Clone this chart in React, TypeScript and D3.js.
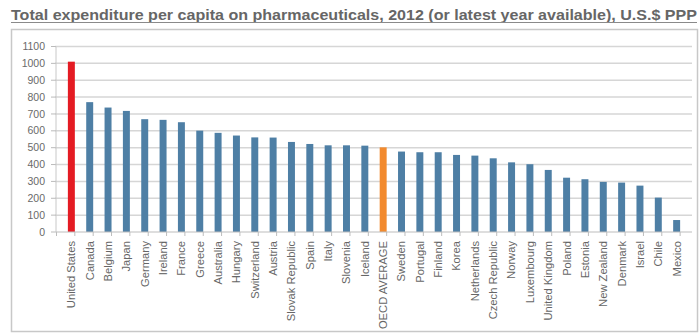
import React from "react";
import * as d3 from "d3";

const categories = [
  "United States", "Canada", "Belgium", "Japan", "Germany", "Ireland", "France", "Greece",
  "Australia", "Hungary", "Switzerland", "Austria", "Slovak Republic", "Spain", "Italy",
  "Slovenia", "Iceland", "OECD AVERAGE", "Sweden", "Portugal", "Finland", "Korea",
  "Netherlands", "Czech Republic", "Norway", "Luxembourg", "United Kingdom", "Poland",
  "Estonia", "New Zealand", "Denmark", "Israel", "Chile", "Mexico",
];
const values = [
  1010, 770, 738, 718, 669, 665, 651, 601, 588, 572, 561, 560, 534, 522, 514, 514, 512, 502,
  477, 473, 473, 457, 453, 437, 413, 402, 368, 322, 313, 297, 293, 275, 204, 71,
];
const yTicks = [0, 100, 200, 300, 400, 500, 600, 700, 800, 900, 1000, 1100];
const title =
  "Total expenditure per capita on pharmaceuticals, 2012 (or latest year available), U.S.$ PPP";

export default function App() {
  const W = 699, H = 335;
  const x = d3.scaleBand<string>().domain(categories).range([56.5, 691.5]).padding(0.62);
  const y = d3.scaleLinear().domain([0, 1100]).range([232, 46.5]);
  const color = (c: string) =>
    c === "United States" ? "#e41b23" : c === "OECD AVERAGE" ? "#f28a2e" : "#4e7fa5";
  const font = "'Liberation Sans', Arial, sans-serif";
  const step = x.step();
  return (
    <svg width={W} height={H} style={{ position: "absolute", left: 0, top: 0, background: "#fff" }}>
      <text x={11} y={19.5} fontFamily={font} fontWeight="bold" fontSize={15} fill="#666666"
        textLength={686} lengthAdjust="spacingAndGlyphs">{title}</text>
      <line x1={11} x2={697} y1={22.5} y2={22.5} stroke="#8a8a8a" strokeWidth={1} />
      <rect x={11.5} y={29.5} width={686} height={302} fill="none" stroke="#c8c8c8" strokeWidth={1.5} />
      {yTicks.map((t) => (
        <g key={t}>
          {t > 0 && (
            <line x1={55} x2={692} y1={y(t)} y2={y(t)} stroke="#d6d6d6" strokeWidth={1.5} />
          )}
          <line x1={51} x2={56} y1={y(t)} y2={y(t)} stroke="#bbb" strokeWidth={1} />
          <text x={45} y={y(t)} dy="0.35em" textAnchor="end" fontFamily={font} fontSize={10.5}
            fill="#6a6a6a">{t}</text>
        </g>
      ))}
      <line x1={56} x2={56} y1={y(1100)} y2={232} stroke="#c8c8c8" strokeWidth={1} />
      {categories.map((c, i) => (
        <rect key={c} x={x(c)} y={y(values[i])} width={x.bandwidth()} height={232 - y(values[i])}
          fill={color(c)} />
      ))}
      <line x1={56} x2={692} y1={232} y2={232} stroke="#bdbdbd" strokeWidth={1.2} />
      {d3.range(categories.length + 1).map((i) => (
        <line key={i} x1={56.5 + i * step} x2={56.5 + i * step} y1={232} y2={236}
          stroke="#bdbdbd" strokeWidth={1} />
      ))}
      {categories.map((c) => {
        const cx = (x(c) as number) + x.bandwidth() / 2;
        return (
          <text key={c} transform={`translate(${cx},241) rotate(-90)`} textAnchor="end"
            dy="0.35em" fontFamily={font} fontSize={11.2} fill="#666666">{c}</text>
        );
      })}
    </svg>
  );
}
